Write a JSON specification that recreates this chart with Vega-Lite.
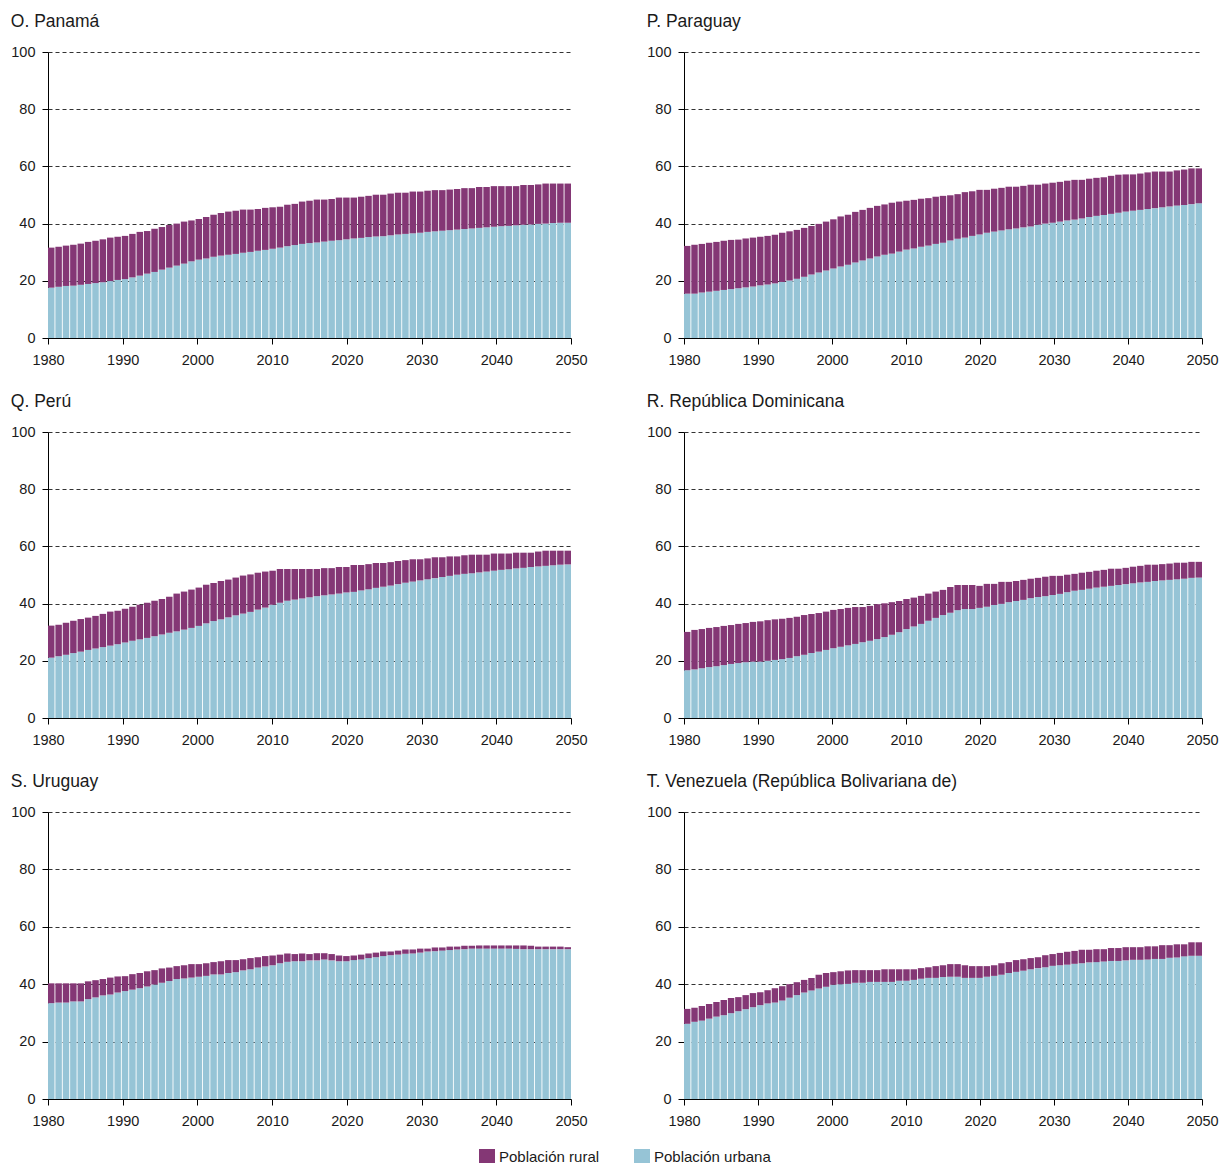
{
"$schema": "https://vega.github.io/schema/vega-lite/v6.json",
"padding": {"left": 10, "top": 12, "right": 5, "bottom": 5},
"data": {"values": [
{"pais":"Panamá","anio":1980,"urbana":17.6,"rural":14.0},{"pais":"Panamá","anio":1981,"urbana":17.9,"rural":14.0},{"pais":"Panamá","anio":1982,"urbana":18.2,"rural":14.1},{"pais":"Panamá","anio":1983,"urbana":18.3,"rural":14.3},{"pais":"Panamá","anio":1984,"urbana":18.6,"rural":14.4},{"pais":"Panamá","anio":1985,"urbana":18.9,"rural":14.7},{"pais":"Panamá","anio":1986,"urbana":19.2,"rural":14.8},{"pais":"Panamá","anio":1987,"urbana":19.5,"rural":15.0},{"pais":"Panamá","anio":1988,"urbana":19.9,"rural":15.2},{"pais":"Panamá","anio":1989,"urbana":20.3,"rural":15.1},
{"pais":"Panamá","anio":1990,"urbana":20.6,"rural":15.1},{"pais":"Panamá","anio":1991,"urbana":21.2,"rural":15.2},{"pais":"Panamá","anio":1992,"urbana":21.8,"rural":15.3},{"pais":"Panamá","anio":1993,"urbana":22.5,"rural":14.9},{"pais":"Panamá","anio":1994,"urbana":23.1,"rural":15.1},{"pais":"Panamá","anio":1995,"urbana":23.9,"rural":14.9},{"pais":"Panamá","anio":1996,"urbana":24.6,"rural":14.9},{"pais":"Panamá","anio":1997,"urbana":25.3,"rural":14.7},{"pais":"Panamá","anio":1998,"urbana":26.0,"rural":14.7},{"pais":"Panamá","anio":1999,"urbana":26.8,"rural":14.3},
{"pais":"Panamá","anio":2000,"urbana":27.4,"rural":14.2},{"pais":"Panamá","anio":2001,"urbana":27.8,"rural":14.5},{"pais":"Panamá","anio":2002,"urbana":28.4,"rural":14.7},{"pais":"Panamá","anio":2003,"urbana":28.8,"rural":14.9},{"pais":"Panamá","anio":2004,"urbana":29.1,"rural":15.1},{"pais":"Panamá","anio":2005,"urbana":29.4,"rural":15.1},{"pais":"Panamá","anio":2006,"urbana":29.8,"rural":15.1},{"pais":"Panamá","anio":2007,"urbana":30.1,"rural":14.8},{"pais":"Panamá","anio":2008,"urbana":30.5,"rural":14.6},{"pais":"Panamá","anio":2009,"urbana":30.8,"rural":14.7},
{"pais":"Panamá","anio":2010,"urbana":31.2,"rural":14.5},{"pais":"Panamá","anio":2011,"urbana":31.6,"rural":14.3},{"pais":"Panamá","anio":2012,"urbana":32.1,"rural":14.5},{"pais":"Panamá","anio":2013,"urbana":32.5,"rural":14.4},{"pais":"Panamá","anio":2014,"urbana":32.9,"rural":14.8},{"pais":"Panamá","anio":2015,"urbana":33.2,"rural":14.8},{"pais":"Panamá","anio":2016,"urbana":33.4,"rural":15.0},{"pais":"Panamá","anio":2017,"urbana":33.7,"rural":14.7},{"pais":"Panamá","anio":2018,"urbana":34.0,"rural":14.6},{"pais":"Panamá","anio":2019,"urbana":34.2,"rural":14.9},
{"pais":"Panamá","anio":2020,"urbana":34.5,"rural":14.6},{"pais":"Panamá","anio":2021,"urbana":34.8,"rural":14.3},{"pais":"Panamá","anio":2022,"urbana":35.0,"rural":14.4},{"pais":"Panamá","anio":2023,"urbana":35.3,"rural":14.4},{"pais":"Panamá","anio":2024,"urbana":35.5,"rural":14.6},{"pais":"Panamá","anio":2025,"urbana":35.6,"rural":14.5},{"pais":"Panamá","anio":2026,"urbana":35.9,"rural":14.6},{"pais":"Panamá","anio":2027,"urbana":36.2,"rural":14.6},{"pais":"Panamá","anio":2028,"urbana":36.4,"rural":14.4},{"pais":"Panamá","anio":2029,"urbana":36.6,"rural":14.6},
{"pais":"Panamá","anio":2030,"urbana":36.8,"rural":14.4},{"pais":"Panamá","anio":2031,"urbana":37.1,"rural":14.4},{"pais":"Panamá","anio":2032,"urbana":37.3,"rural":14.4},{"pais":"Panamá","anio":2033,"urbana":37.5,"rural":14.2},{"pais":"Panamá","anio":2034,"urbana":37.7,"rural":14.2},{"pais":"Panamá","anio":2035,"urbana":37.9,"rural":14.2},{"pais":"Panamá","anio":2036,"urbana":38.1,"rural":14.3},{"pais":"Panamá","anio":2037,"urbana":38.3,"rural":14.1},{"pais":"Panamá","anio":2038,"urbana":38.5,"rural":14.3},{"pais":"Panamá","anio":2039,"urbana":38.7,"rural":14.1},
{"pais":"Panamá","anio":2040,"urbana":38.9,"rural":14.2},{"pais":"Panamá","anio":2041,"urbana":39.1,"rural":14.0},{"pais":"Panamá","anio":2042,"urbana":39.2,"rural":13.9},{"pais":"Panamá","anio":2043,"urbana":39.4,"rural":13.7},{"pais":"Panamá","anio":2044,"urbana":39.6,"rural":13.9},{"pais":"Panamá","anio":2045,"urbana":39.7,"rural":13.8},{"pais":"Panamá","anio":2046,"urbana":39.9,"rural":13.8},{"pais":"Panamá","anio":2047,"urbana":40.0,"rural":14.0},{"pais":"Panamá","anio":2048,"urbana":40.2,"rural":13.8},{"pais":"Panamá","anio":2049,"urbana":40.3,"rural":13.7},
{"pais":"Panamá","anio":2050,"urbana":40.3,"rural":13.7},

{"pais":"Paraguay","anio":1980,"urbana":15.5,"rural":16.7},{"pais":"Paraguay","anio":1981,"urbana":15.5,"rural":17.1},{"pais":"Paraguay","anio":1982,"urbana":15.9,"rural":17.0},{"pais":"Paraguay","anio":1983,"urbana":16.2,"rural":17.1},{"pais":"Paraguay","anio":1984,"urbana":16.5,"rural":17.1},{"pais":"Paraguay","anio":1985,"urbana":16.8,"rural":17.2},{"pais":"Paraguay","anio":1986,"urbana":17.1,"rural":17.2},{"pais":"Paraguay","anio":1987,"urbana":17.4,"rural":17.0},{"pais":"Paraguay","anio":1988,"urbana":17.7,"rural":17.1},{"pais":"Paraguay","anio":1989,"urbana":18.0,"rural":17.1},
{"pais":"Paraguay","anio":1990,"urbana":18.4,"rural":17.0},{"pais":"Paraguay","anio":1991,"urbana":18.7,"rural":17.0},{"pais":"Paraguay","anio":1992,"urbana":19.1,"rural":17.0},{"pais":"Paraguay","anio":1993,"urbana":19.6,"rural":17.2},{"pais":"Paraguay","anio":1994,"urbana":20.1,"rural":17.2},{"pais":"Paraguay","anio":1995,"urbana":20.7,"rural":17.1},{"pais":"Paraguay","anio":1996,"urbana":21.4,"rural":17.1},{"pais":"Paraguay","anio":1997,"urbana":22.2,"rural":17.0},{"pais":"Paraguay","anio":1998,"urbana":22.9,"rural":17.0},{"pais":"Paraguay","anio":1999,"urbana":23.6,"rural":17.1},
{"pais":"Paraguay","anio":2000,"urbana":24.3,"rural":17.2},{"pais":"Paraguay","anio":2001,"urbana":25.0,"rural":17.5},{"pais":"Paraguay","anio":2002,"urbana":25.6,"rural":17.5},{"pais":"Paraguay","anio":2003,"urbana":26.4,"rural":17.7},{"pais":"Paraguay","anio":2004,"urbana":27.1,"rural":17.7},{"pais":"Paraguay","anio":2005,"urbana":27.8,"rural":17.7},{"pais":"Paraguay","anio":2006,"urbana":28.5,"rural":17.7},{"pais":"Paraguay","anio":2007,"urbana":29.1,"rural":17.6},{"pais":"Paraguay","anio":2008,"urbana":29.5,"rural":17.8},{"pais":"Paraguay","anio":2009,"urbana":30.2,"rural":17.5},
{"pais":"Paraguay","anio":2010,"urbana":30.9,"rural":17.1},{"pais":"Paraguay","anio":2011,"urbana":31.3,"rural":17.0},{"pais":"Paraguay","anio":2012,"urbana":31.9,"rural":16.8},{"pais":"Paraguay","anio":2013,"urbana":32.3,"rural":16.6},{"pais":"Paraguay","anio":2014,"urbana":32.9,"rural":16.5},{"pais":"Paraguay","anio":2015,"urbana":33.3,"rural":16.4},{"pais":"Paraguay","anio":2016,"urbana":34.1,"rural":15.8},{"pais":"Paraguay","anio":2017,"urbana":34.7,"rural":15.6},{"pais":"Paraguay","anio":2018,"urbana":35.1,"rural":15.9},{"pais":"Paraguay","anio":2019,"urbana":35.7,"rural":15.6},
{"pais":"Paraguay","anio":2020,"urbana":36.2,"rural":15.6},{"pais":"Paraguay","anio":2021,"urbana":36.8,"rural":15.0},{"pais":"Paraguay","anio":2022,"urbana":37.2,"rural":15.0},{"pais":"Paraguay","anio":2023,"urbana":37.6,"rural":14.9},{"pais":"Paraguay","anio":2024,"urbana":38.0,"rural":14.9},{"pais":"Paraguay","anio":2025,"urbana":38.3,"rural":14.6},{"pais":"Paraguay","anio":2026,"urbana":38.7,"rural":14.5},{"pais":"Paraguay","anio":2027,"urbana":39.0,"rural":14.6},{"pais":"Paraguay","anio":2028,"urbana":39.6,"rural":14.0},{"pais":"Paraguay","anio":2029,"urbana":40.0,"rural":14.0},
{"pais":"Paraguay","anio":2030,"urbana":40.3,"rural":14.0},{"pais":"Paraguay","anio":2031,"urbana":40.7,"rural":13.9},{"pais":"Paraguay","anio":2032,"urbana":41.1,"rural":13.9},{"pais":"Paraguay","anio":2033,"urbana":41.4,"rural":13.9},{"pais":"Paraguay","anio":2034,"urbana":41.8,"rural":13.5},{"pais":"Paraguay","anio":2035,"urbana":42.3,"rural":13.4},{"pais":"Paraguay","anio":2036,"urbana":42.7,"rural":13.3},{"pais":"Paraguay","anio":2037,"urbana":43.0,"rural":13.2},{"pais":"Paraguay","anio":2038,"urbana":43.4,"rural":13.3},{"pais":"Paraguay","anio":2039,"urbana":43.8,"rural":13.3},
{"pais":"Paraguay","anio":2040,"urbana":44.2,"rural":13.0},{"pais":"Paraguay","anio":2041,"urbana":44.5,"rural":12.7},{"pais":"Paraguay","anio":2042,"urbana":44.8,"rural":12.7},{"pais":"Paraguay","anio":2043,"urbana":45.1,"rural":12.8},{"pais":"Paraguay","anio":2044,"urbana":45.4,"rural":12.8},{"pais":"Paraguay","anio":2045,"urbana":45.7,"rural":12.5},{"pais":"Paraguay","anio":2046,"urbana":46.0,"rural":12.2},{"pais":"Paraguay","anio":2047,"urbana":46.3,"rural":12.3},{"pais":"Paraguay","anio":2048,"urbana":46.5,"rural":12.4},{"pais":"Paraguay","anio":2049,"urbana":46.8,"rural":12.5},
{"pais":"Paraguay","anio":2050,"urbana":47.1,"rural":12.2},

{"pais":"Perú","anio":1980,"urbana":21.1,"rural":11.2},{"pais":"Perú","anio":1981,"urbana":21.6,"rural":11.0},{"pais":"Perú","anio":1982,"urbana":22.1,"rural":11.2},{"pais":"Perú","anio":1983,"urbana":22.7,"rural":11.3},{"pais":"Perú","anio":1984,"urbana":23.2,"rural":11.4},{"pais":"Perú","anio":1985,"urbana":23.8,"rural":11.3},{"pais":"Perú","anio":1986,"urbana":24.3,"rural":11.4},{"pais":"Perú","anio":1987,"urbana":24.8,"rural":11.6},{"pais":"Perú","anio":1988,"urbana":25.3,"rural":11.9},{"pais":"Perú","anio":1989,"urbana":25.8,"rural":11.7},
{"pais":"Perú","anio":1990,"urbana":26.4,"rural":11.8},{"pais":"Perú","anio":1991,"urbana":27.0,"rural":11.9},{"pais":"Perú","anio":1992,"urbana":27.5,"rural":12.1},{"pais":"Perú","anio":1993,"urbana":28.0,"rural":12.3},{"pais":"Perú","anio":1994,"urbana":28.6,"rural":12.4},{"pais":"Perú","anio":1995,"urbana":29.2,"rural":12.4},{"pais":"Perú","anio":1996,"urbana":29.8,"rural":12.6},{"pais":"Perú","anio":1997,"urbana":30.3,"rural":13.2},{"pais":"Perú","anio":1998,"urbana":30.9,"rural":13.3},{"pais":"Perú","anio":1999,"urbana":31.5,"rural":13.4},
{"pais":"Perú","anio":2000,"urbana":32.2,"rural":13.4},{"pais":"Perú","anio":2001,"urbana":33.1,"rural":13.5},{"pais":"Perú","anio":2002,"urbana":33.9,"rural":13.3},{"pais":"Perú","anio":2003,"urbana":34.5,"rural":13.4},{"pais":"Perú","anio":2004,"urbana":35.2,"rural":13.2},{"pais":"Perú","anio":2005,"urbana":35.9,"rural":13.2},{"pais":"Perú","anio":2006,"urbana":36.5,"rural":13.3},{"pais":"Perú","anio":2007,"urbana":37.1,"rural":13.1},{"pais":"Perú","anio":2008,"urbana":37.9,"rural":12.9},{"pais":"Perú","anio":2009,"urbana":38.6,"rural":12.6},
{"pais":"Perú","anio":2010,"urbana":39.6,"rural":11.9},{"pais":"Perú","anio":2011,"urbana":40.3,"rural":11.8},{"pais":"Perú","anio":2012,"urbana":41.0,"rural":11.1},{"pais":"Perú","anio":2013,"urbana":41.4,"rural":10.7},{"pais":"Perú","anio":2014,"urbana":41.8,"rural":10.3},{"pais":"Perú","anio":2015,"urbana":42.2,"rural":9.9},{"pais":"Perú","anio":2016,"urbana":42.6,"rural":9.5},{"pais":"Perú","anio":2017,"urbana":42.9,"rural":9.5},{"pais":"Perú","anio":2018,"urbana":43.2,"rural":9.2},{"pais":"Perú","anio":2019,"urbana":43.5,"rural":9.3},
{"pais":"Perú","anio":2020,"urbana":43.9,"rural":8.9},{"pais":"Perú","anio":2021,"urbana":44.1,"rural":9.4},{"pais":"Perú","anio":2022,"urbana":44.6,"rural":8.9},{"pais":"Perú","anio":2023,"urbana":45.0,"rural":8.8},{"pais":"Perú","anio":2024,"urbana":45.5,"rural":8.7},{"pais":"Perú","anio":2025,"urbana":45.9,"rural":8.3},{"pais":"Perú","anio":2026,"urbana":46.3,"rural":8.2},{"pais":"Perú","anio":2027,"urbana":46.8,"rural":8.1},{"pais":"Perú","anio":2028,"urbana":47.3,"rural":7.9},{"pais":"Perú","anio":2029,"urbana":47.7,"rural":7.8},
{"pais":"Perú","anio":2030,"urbana":48.1,"rural":7.4},{"pais":"Perú","anio":2031,"urbana":48.5,"rural":7.3},{"pais":"Perú","anio":2032,"urbana":48.9,"rural":7.3},{"pais":"Perú","anio":2033,"urbana":49.3,"rural":6.9},{"pais":"Perú","anio":2034,"urbana":49.7,"rural":6.8},{"pais":"Perú","anio":2035,"urbana":50.1,"rural":6.4},{"pais":"Perú","anio":2036,"urbana":50.4,"rural":6.5},{"pais":"Perú","anio":2037,"urbana":50.6,"rural":6.5},{"pais":"Perú","anio":2038,"urbana":50.9,"rural":6.2},{"pais":"Perú","anio":2039,"urbana":51.2,"rural":5.9},
{"pais":"Perú","anio":2040,"urbana":51.5,"rural":6.0},{"pais":"Perú","anio":2041,"urbana":51.8,"rural":5.7},{"pais":"Perú","anio":2042,"urbana":52.0,"rural":5.5},{"pais":"Perú","anio":2043,"urbana":52.3,"rural":5.5},{"pais":"Perú","anio":2044,"urbana":52.5,"rural":5.3},{"pais":"Perú","anio":2045,"urbana":52.8,"rural":5.0},{"pais":"Perú","anio":2046,"urbana":53.0,"rural":5.2},{"pais":"Perú","anio":2047,"urbana":53.2,"rural":5.3},{"pais":"Perú","anio":2048,"urbana":53.4,"rural":5.1},{"pais":"Perú","anio":2049,"urbana":53.6,"rural":4.9},
{"pais":"Perú","anio":2050,"urbana":53.7,"rural":4.8},

{"pais":"República Dominicana","anio":1980,"urbana":16.7,"rural":13.4},{"pais":"República Dominicana","anio":1981,"urbana":17.0,"rural":13.8},{"pais":"República Dominicana","anio":1982,"urbana":17.4,"rural":13.7},{"pais":"República Dominicana","anio":1983,"urbana":17.8,"rural":13.7},{"pais":"República Dominicana","anio":1984,"urbana":18.1,"rural":13.7},{"pais":"República Dominicana","anio":1985,"urbana":18.5,"rural":13.7},{"pais":"República Dominicana","anio":1986,"urbana":18.9,"rural":13.6},{"pais":"República Dominicana","anio":1987,"urbana":19.2,"rural":13.7},{"pais":"República Dominicana","anio":1988,"urbana":19.5,"rural":13.7},{"pais":"República Dominicana","anio":1989,"urbana":19.7,"rural":13.9},
{"pais":"República Dominicana","anio":1990,"urbana":19.7,"rural":14.1},{"pais":"República Dominicana","anio":1991,"urbana":20.0,"rural":14.2},{"pais":"República Dominicana","anio":1992,"urbana":20.3,"rural":14.2},{"pais":"República Dominicana","anio":1993,"urbana":20.6,"rural":14.1},{"pais":"República Dominicana","anio":1994,"urbana":21.0,"rural":14.0},{"pais":"República Dominicana","anio":1995,"urbana":21.6,"rural":13.8},{"pais":"República Dominicana","anio":1996,"urbana":22.1,"rural":13.9},{"pais":"República Dominicana","anio":1997,"urbana":22.7,"rural":13.7},{"pais":"República Dominicana","anio":1998,"urbana":23.2,"rural":13.5},{"pais":"República Dominicana","anio":1999,"urbana":23.8,"rural":13.4},
{"pais":"República Dominicana","anio":2000,"urbana":24.4,"rural":13.4},{"pais":"República Dominicana","anio":2001,"urbana":24.9,"rural":13.2},{"pais":"República Dominicana","anio":2002,"urbana":25.4,"rural":13.1},{"pais":"República Dominicana","anio":2003,"urbana":25.9,"rural":12.9},{"pais":"República Dominicana","anio":2004,"urbana":26.5,"rural":12.3},{"pais":"República Dominicana","anio":2005,"urbana":27.0,"rural":12.2},{"pais":"República Dominicana","anio":2006,"urbana":27.6,"rural":12.2},{"pais":"República Dominicana","anio":2007,"urbana":28.3,"rural":11.8},{"pais":"República Dominicana","anio":2008,"urbana":29.1,"rural":11.4},{"pais":"República Dominicana","anio":2009,"urbana":30.0,"rural":10.9},
{"pais":"República Dominicana","anio":2010,"urbana":31.1,"rural":10.5},{"pais":"República Dominicana","anio":2011,"urbana":32.0,"rural":10.1},{"pais":"República Dominicana","anio":2012,"urbana":32.9,"rural":9.8},{"pais":"República Dominicana","anio":2013,"urbana":34.0,"rural":9.5},{"pais":"República Dominicana","anio":2014,"urbana":35.0,"rural":9.2},{"pais":"República Dominicana","anio":2015,"urbana":36.0,"rural":8.8},{"pais":"República Dominicana","anio":2016,"urbana":36.8,"rural":9.0},{"pais":"República Dominicana","anio":2017,"urbana":37.7,"rural":8.8},{"pais":"República Dominicana","anio":2018,"urbana":38.1,"rural":8.4},{"pais":"República Dominicana","anio":2019,"urbana":38.1,"rural":8.4},
{"pais":"República Dominicana","anio":2020,"urbana":38.5,"rural":7.7},{"pais":"República Dominicana","anio":2021,"urbana":38.9,"rural":8.0},{"pais":"República Dominicana","anio":2022,"urbana":39.5,"rural":7.4},{"pais":"República Dominicana","anio":2023,"urbana":39.9,"rural":7.7},{"pais":"República Dominicana","anio":2024,"urbana":40.5,"rural":7.1},{"pais":"República Dominicana","anio":2025,"urbana":40.9,"rural":7.0},{"pais":"República Dominicana","anio":2026,"urbana":41.3,"rural":7.0},{"pais":"República Dominicana","anio":2027,"urbana":41.9,"rural":6.8},{"pais":"República Dominicana","anio":2028,"urbana":42.3,"rural":6.7},{"pais":"República Dominicana","anio":2029,"urbana":42.6,"rural":6.8},
{"pais":"República Dominicana","anio":2030,"urbana":43.0,"rural":6.7},{"pais":"República Dominicana","anio":2031,"urbana":43.4,"rural":6.3},{"pais":"República Dominicana","anio":2032,"urbana":44.0,"rural":6.1},{"pais":"República Dominicana","anio":2033,"urbana":44.5,"rural":5.9},{"pais":"República Dominicana","anio":2034,"urbana":44.8,"rural":6.0},{"pais":"República Dominicana","anio":2035,"urbana":45.2,"rural":5.9},{"pais":"República Dominicana","anio":2036,"urbana":45.6,"rural":5.9},{"pais":"República Dominicana","anio":2037,"urbana":45.9,"rural":5.9},{"pais":"República Dominicana","anio":2038,"urbana":46.2,"rural":6.0},{"pais":"República Dominicana","anio":2039,"urbana":46.5,"rural":5.7},
{"pais":"República Dominicana","anio":2040,"urbana":46.8,"rural":5.7},{"pais":"República Dominicana","anio":2041,"urbana":47.1,"rural":5.8},{"pais":"República Dominicana","anio":2042,"urbana":47.4,"rural":5.8},{"pais":"República Dominicana","anio":2043,"urbana":47.6,"rural":6.0},{"pais":"República Dominicana","anio":2044,"urbana":47.9,"rural":5.7},{"pais":"República Dominicana","anio":2045,"urbana":48.1,"rural":5.7},{"pais":"República Dominicana","anio":2046,"urbana":48.3,"rural":5.7},{"pais":"República Dominicana","anio":2047,"urbana":48.5,"rural":5.8},{"pais":"República Dominicana","anio":2048,"urbana":48.7,"rural":5.6},{"pais":"República Dominicana","anio":2049,"urbana":49.0,"rural":5.6},
{"pais":"República Dominicana","anio":2050,"urbana":49.1,"rural":5.5},

{"pais":"Uruguay","anio":1980,"urbana":33.4,"rural":6.9},{"pais":"Uruguay","anio":1981,"urbana":33.6,"rural":6.7},{"pais":"Uruguay","anio":1982,"urbana":33.6,"rural":6.7},{"pais":"Uruguay","anio":1983,"urbana":34.0,"rural":6.3},{"pais":"Uruguay","anio":1984,"urbana":34.0,"rural":6.3},{"pais":"Uruguay","anio":1985,"urbana":34.8,"rural":6.2},{"pais":"Uruguay","anio":1986,"urbana":35.4,"rural":6.0},{"pais":"Uruguay","anio":1987,"urbana":36.1,"rural":5.7},{"pais":"Uruguay","anio":1988,"urbana":36.4,"rural":5.9},{"pais":"Uruguay","anio":1989,"urbana":37.1,"rural":5.6},
{"pais":"Uruguay","anio":1990,"urbana":37.6,"rural":5.2},{"pais":"Uruguay","anio":1991,"urbana":38.1,"rural":5.4},{"pais":"Uruguay","anio":1992,"urbana":38.6,"rural":5.3},{"pais":"Uruguay","anio":1993,"urbana":39.2,"rural":5.3},{"pais":"Uruguay","anio":1994,"urbana":39.9,"rural":5.0},{"pais":"Uruguay","anio":1995,"urbana":40.5,"rural":5.0},{"pais":"Uruguay","anio":1996,"urbana":41.1,"rural":4.7},{"pais":"Uruguay","anio":1997,"urbana":41.8,"rural":4.5},{"pais":"Uruguay","anio":1998,"urbana":42.0,"rural":4.6},{"pais":"Uruguay","anio":1999,"urbana":42.3,"rural":4.7},
{"pais":"Uruguay","anio":2000,"urbana":42.6,"rural":4.4},{"pais":"Uruguay","anio":2001,"urbana":42.9,"rural":4.4},{"pais":"Uruguay","anio":2002,"urbana":43.4,"rural":4.3},{"pais":"Uruguay","anio":2003,"urbana":43.4,"rural":4.6},{"pais":"Uruguay","anio":2004,"urbana":43.9,"rural":4.5},{"pais":"Uruguay","anio":2005,"urbana":44.2,"rural":4.2},{"pais":"Uruguay","anio":2006,"urbana":44.8,"rural":3.9},{"pais":"Uruguay","anio":2007,"urbana":45.2,"rural":3.9},{"pais":"Uruguay","anio":2008,"urbana":45.8,"rural":3.6},{"pais":"Uruguay","anio":2009,"urbana":46.2,"rural":3.6},
{"pais":"Uruguay","anio":2010,"urbana":46.6,"rural":3.4},{"pais":"Uruguay","anio":2011,"urbana":47.3,"rural":3.0},{"pais":"Uruguay","anio":2012,"urbana":47.8,"rural":2.9},{"pais":"Uruguay","anio":2013,"urbana":48.0,"rural":2.5},{"pais":"Uruguay","anio":2014,"urbana":48.0,"rural":2.7},{"pais":"Uruguay","anio":2015,"urbana":48.3,"rural":2.2},{"pais":"Uruguay","anio":2016,"urbana":48.3,"rural":2.5},{"pais":"Uruguay","anio":2017,"urbana":48.6,"rural":2.2},{"pais":"Uruguay","anio":2018,"urbana":48.3,"rural":2.2},{"pais":"Uruguay","anio":2019,"urbana":48.0,"rural":2.0},
{"pais":"Uruguay","anio":2020,"urbana":48.0,"rural":1.8},{"pais":"Uruguay","anio":2021,"urbana":48.4,"rural":1.6},{"pais":"Uruguay","anio":2022,"urbana":48.6,"rural":1.7},{"pais":"Uruguay","anio":2023,"urbana":49.1,"rural":1.6},{"pais":"Uruguay","anio":2024,"urbana":49.4,"rural":1.6},{"pais":"Uruguay","anio":2025,"urbana":49.8,"rural":1.6},{"pais":"Uruguay","anio":2026,"urbana":50.1,"rural":1.3},{"pais":"Uruguay","anio":2027,"urbana":50.3,"rural":1.4},{"pais":"Uruguay","anio":2028,"urbana":50.6,"rural":1.5},{"pais":"Uruguay","anio":2029,"urbana":50.7,"rural":1.4},
{"pais":"Uruguay","anio":2030,"urbana":51.0,"rural":1.4},{"pais":"Uruguay","anio":2031,"urbana":51.4,"rural":1.0},{"pais":"Uruguay","anio":2032,"urbana":51.5,"rural":1.3},{"pais":"Uruguay","anio":2033,"urbana":51.7,"rural":1.1},{"pais":"Uruguay","anio":2034,"urbana":51.9,"rural":1.2},{"pais":"Uruguay","anio":2035,"urbana":52.1,"rural":1.0},{"pais":"Uruguay","anio":2036,"urbana":52.2,"rural":1.2},{"pais":"Uruguay","anio":2037,"urbana":52.4,"rural":1.0},{"pais":"Uruguay","anio":2038,"urbana":52.4,"rural":1.1},{"pais":"Uruguay","anio":2039,"urbana":52.4,"rural":1.1},
{"pais":"Uruguay","anio":2040,"urbana":52.4,"rural":1.1},{"pais":"Uruguay","anio":2041,"urbana":52.4,"rural":1.1},{"pais":"Uruguay","anio":2042,"urbana":52.4,"rural":1.1},{"pais":"Uruguay","anio":2043,"urbana":52.3,"rural":1.2},{"pais":"Uruguay","anio":2044,"urbana":52.2,"rural":1.3},{"pais":"Uruguay","anio":2045,"urbana":52.2,"rural":1.2},{"pais":"Uruguay","anio":2046,"urbana":52.2,"rural":0.9},{"pais":"Uruguay","anio":2047,"urbana":52.2,"rural":0.9},{"pais":"Uruguay","anio":2048,"urbana":52.2,"rural":0.9},{"pais":"Uruguay","anio":2049,"urbana":52.2,"rural":0.9},
{"pais":"Uruguay","anio":2050,"urbana":52.2,"rural":0.7},

{"pais":"Venezuela","anio":1980,"urbana":26.2,"rural":5.2},{"pais":"Venezuela","anio":1981,"urbana":26.9,"rural":4.9},{"pais":"Venezuela","anio":1982,"urbana":27.3,"rural":5.1},{"pais":"Venezuela","anio":1983,"urbana":28.0,"rural":5.1},{"pais":"Venezuela","anio":1984,"urbana":28.7,"rural":5.1},{"pais":"Venezuela","anio":1985,"urbana":29.2,"rural":5.3},{"pais":"Venezuela","anio":1986,"urbana":29.9,"rural":5.3},{"pais":"Venezuela","anio":1987,"urbana":30.6,"rural":4.9},{"pais":"Venezuela","anio":1988,"urbana":31.3,"rural":4.9},{"pais":"Venezuela","anio":1989,"urbana":32.0,"rural":4.9},
{"pais":"Venezuela","anio":1990,"urbana":32.7,"rural":4.5},{"pais":"Venezuela","anio":1991,"urbana":33.3,"rural":4.6},{"pais":"Venezuela","anio":1992,"urbana":33.6,"rural":5.0},{"pais":"Venezuela","anio":1993,"urbana":34.3,"rural":5.0},{"pais":"Venezuela","anio":1994,"urbana":35.3,"rural":4.7},{"pais":"Venezuela","anio":1995,"urbana":36.2,"rural":4.5},{"pais":"Venezuela","anio":1996,"urbana":37.1,"rural":4.4},{"pais":"Venezuela","anio":1997,"urbana":37.8,"rural":4.4},{"pais":"Venezuela","anio":1998,"urbana":38.5,"rural":4.8},{"pais":"Venezuela","anio":1999,"urbana":39.1,"rural":4.8},
{"pais":"Venezuela","anio":2000,"urbana":39.8,"rural":4.4},{"pais":"Venezuela","anio":2001,"urbana":40.0,"rural":4.5},{"pais":"Venezuela","anio":2002,"urbana":40.1,"rural":4.7},{"pais":"Venezuela","anio":2003,"urbana":40.5,"rural":4.4},{"pais":"Venezuela","anio":2004,"urbana":40.5,"rural":4.4},{"pais":"Venezuela","anio":2005,"urbana":40.8,"rural":4.1},{"pais":"Venezuela","anio":2006,"urbana":40.8,"rural":4.1},{"pais":"Venezuela","anio":2007,"urbana":40.8,"rural":4.4},{"pais":"Venezuela","anio":2008,"urbana":40.8,"rural":4.4},{"pais":"Venezuela","anio":2009,"urbana":41.2,"rural":4.0},
{"pais":"Venezuela","anio":2010,"urbana":41.2,"rural":4.0},{"pais":"Venezuela","anio":2011,"urbana":41.5,"rural":3.7},{"pais":"Venezuela","anio":2012,"urbana":41.9,"rural":3.7},{"pais":"Venezuela","anio":2013,"urbana":42.2,"rural":3.7},{"pais":"Venezuela","anio":2014,"urbana":42.2,"rural":4.1},{"pais":"Venezuela","anio":2015,"urbana":42.5,"rural":4.1},{"pais":"Venezuela","anio":2016,"urbana":42.6,"rural":4.4},{"pais":"Venezuela","anio":2017,"urbana":42.6,"rural":4.4},{"pais":"Venezuela","anio":2018,"urbana":42.2,"rural":4.4},{"pais":"Venezuela","anio":2019,"urbana":42.2,"rural":4.1},
{"pais":"Venezuela","anio":2020,"urbana":42.2,"rural":4.1},{"pais":"Venezuela","anio":2021,"urbana":42.6,"rural":3.7},{"pais":"Venezuela","anio":2022,"urbana":42.9,"rural":3.7},{"pais":"Venezuela","anio":2023,"urbana":43.3,"rural":4.0},{"pais":"Venezuela","anio":2024,"urbana":43.9,"rural":3.8},{"pais":"Venezuela","anio":2025,"urbana":44.3,"rural":4.1},{"pais":"Venezuela","anio":2026,"urbana":44.7,"rural":4.0},{"pais":"Venezuela","anio":2027,"urbana":45.2,"rural":3.9},{"pais":"Venezuela","anio":2028,"urbana":45.6,"rural":3.8},{"pais":"Venezuela","anio":2029,"urbana":45.9,"rural":4.2},
{"pais":"Venezuela","anio":2030,"urbana":46.4,"rural":4.1},{"pais":"Venezuela","anio":2031,"urbana":46.6,"rural":4.3},{"pais":"Venezuela","anio":2032,"urbana":46.8,"rural":4.5},{"pais":"Venezuela","anio":2033,"urbana":47.1,"rural":4.5},{"pais":"Venezuela","anio":2034,"urbana":47.3,"rural":4.7},{"pais":"Venezuela","anio":2035,"urbana":47.6,"rural":4.4},{"pais":"Venezuela","anio":2036,"urbana":47.7,"rural":4.5},{"pais":"Venezuela","anio":2037,"urbana":47.9,"rural":4.3},{"pais":"Venezuela","anio":2038,"urbana":48.1,"rural":4.5},{"pais":"Venezuela","anio":2039,"urbana":48.1,"rural":4.5},
{"pais":"Venezuela","anio":2040,"urbana":48.3,"rural":4.6},{"pais":"Venezuela","anio":2041,"urbana":48.5,"rural":4.4},{"pais":"Venezuela","anio":2042,"urbana":48.5,"rural":4.4},{"pais":"Venezuela","anio":2043,"urbana":48.6,"rural":4.6},{"pais":"Venezuela","anio":2044,"urbana":48.8,"rural":4.4},{"pais":"Venezuela","anio":2045,"urbana":48.8,"rural":4.8},{"pais":"Venezuela","anio":2046,"urbana":49.2,"rural":4.4},{"pais":"Venezuela","anio":2047,"urbana":49.3,"rural":4.6},{"pais":"Venezuela","anio":2048,"urbana":49.7,"rural":4.2},{"pais":"Venezuela","anio":2049,"urbana":49.9,"rural":4.7},
{"pais":"Venezuela","anio":2050,"urbana":49.9,"rural":4.7}
]},
"transform": [{"fold": ["urbana", "rural"], "as": ["tipo", "valor"]}],
"columns": 2,
"spacing": {"column": 58, "row": 25},
"concat": [
{"title": {"text": "O. Panamá"}, "width": 523, "height": 286, "transform": [{"filter": "datum.pais === 'Panamá'"}],
 "layer": [
  {"mark": {"type": "bar"}, "encoding": {
    "x": {"field": "anio", "type": "ordinal", "scale": {"paddingInner": 0.12, "paddingOuter": 0}, "axis": null},
    "y": {"field": "valor", "type": "quantitative", "stack": "zero", "scale": {"domain": [0, 100]}, "axis": {"values": [0, 20, 40, 60, 80, 100], "title": null}},
    "color": {"field": "tipo", "type": "nominal", "scale": {"domain": ["rural", "urbana"], "range": ["#843775", "#96c4d6"]}, "legend": {"orient": "none", "legendX": 431, "legendY": 1097, "direction": "horizontal", "title": null, "labelExpr": "datum.label == 'rural' ? 'Población rural' : 'Población urbana'"}},
    "order": {"field": "tipo", "sort": "descending"}}},
  {"mark": {"type": "rule", "opacity": 0}, "encoding": {"x": {"field": "anio", "type": "quantitative", "scale": {"domain": [1980, 2050], "nice": false, "zero": false}, "axis": {"values": [1980, 1990, 2000, 2010, 2020, 2030, 2040, 2050], "format": "d", "title": null, "grid": false}}}}
 ], "resolve": {"scale": {"x": "independent"}}},
{"title": {"text": "P. Paraguay"}, "width": 518, "height": 286, "transform": [{"filter": "datum.pais === 'Paraguay'"}],
 "layer": [
  {"mark": {"type": "bar"}, "encoding": {
    "x": {"field": "anio", "type": "ordinal", "scale": {"paddingInner": 0.12, "paddingOuter": 0}, "axis": null},
    "y": {"field": "valor", "type": "quantitative", "stack": "zero", "scale": {"domain": [0, 100]}, "axis": {"values": [0, 20, 40, 60, 80, 100], "title": null}},
    "color": {"field": "tipo", "type": "nominal", "scale": {"domain": ["rural", "urbana"], "range": ["#843775", "#96c4d6"]}},
    "order": {"field": "tipo", "sort": "descending"}}},
  {"mark": {"type": "rule", "opacity": 0}, "encoding": {"x": {"field": "anio", "type": "quantitative", "scale": {"domain": [1980, 2050], "nice": false, "zero": false}, "axis": {"values": [1980, 1990, 2000, 2010, 2020, 2030, 2040, 2050], "format": "d", "title": null, "grid": false}}}}
 ], "resolve": {"scale": {"x": "independent"}}},
{"title": {"text": "Q. Perú"}, "width": 523, "height": 286, "transform": [{"filter": "datum.pais === 'Perú'"}],
 "layer": [
  {"mark": {"type": "bar"}, "encoding": {
    "x": {"field": "anio", "type": "ordinal", "scale": {"paddingInner": 0.12, "paddingOuter": 0}, "axis": null},
    "y": {"field": "valor", "type": "quantitative", "stack": "zero", "scale": {"domain": [0, 100]}, "axis": {"values": [0, 20, 40, 60, 80, 100], "title": null}},
    "color": {"field": "tipo", "type": "nominal", "scale": {"domain": ["rural", "urbana"], "range": ["#843775", "#96c4d6"]}},
    "order": {"field": "tipo", "sort": "descending"}}},
  {"mark": {"type": "rule", "opacity": 0}, "encoding": {"x": {"field": "anio", "type": "quantitative", "scale": {"domain": [1980, 2050], "nice": false, "zero": false}, "axis": {"values": [1980, 1990, 2000, 2010, 2020, 2030, 2040, 2050], "format": "d", "title": null, "grid": false}}}}
 ], "resolve": {"scale": {"x": "independent"}}},
{"title": {"text": "R. República Dominicana"}, "width": 518, "height": 286, "transform": [{"filter": "datum.pais === 'República Dominicana'"}],
 "layer": [
  {"mark": {"type": "bar"}, "encoding": {
    "x": {"field": "anio", "type": "ordinal", "scale": {"paddingInner": 0.12, "paddingOuter": 0}, "axis": null},
    "y": {"field": "valor", "type": "quantitative", "stack": "zero", "scale": {"domain": [0, 100]}, "axis": {"values": [0, 20, 40, 60, 80, 100], "title": null}},
    "color": {"field": "tipo", "type": "nominal", "scale": {"domain": ["rural", "urbana"], "range": ["#843775", "#96c4d6"]}},
    "order": {"field": "tipo", "sort": "descending"}}},
  {"mark": {"type": "rule", "opacity": 0}, "encoding": {"x": {"field": "anio", "type": "quantitative", "scale": {"domain": [1980, 2050], "nice": false, "zero": false}, "axis": {"values": [1980, 1990, 2000, 2010, 2020, 2030, 2040, 2050], "format": "d", "title": null, "grid": false}}}}
 ], "resolve": {"scale": {"x": "independent"}}},
{"title": {"text": "S. Uruguay"}, "width": 523, "height": 287, "transform": [{"filter": "datum.pais === 'Uruguay'"}],
 "layer": [
  {"mark": {"type": "bar"}, "encoding": {
    "x": {"field": "anio", "type": "ordinal", "scale": {"paddingInner": 0.12, "paddingOuter": 0}, "axis": null},
    "y": {"field": "valor", "type": "quantitative", "stack": "zero", "scale": {"domain": [0, 100]}, "axis": {"values": [0, 20, 40, 60, 80, 100], "title": null}},
    "color": {"field": "tipo", "type": "nominal", "scale": {"domain": ["rural", "urbana"], "range": ["#843775", "#96c4d6"]}},
    "order": {"field": "tipo", "sort": "descending"}}},
  {"mark": {"type": "rule", "opacity": 0}, "encoding": {"x": {"field": "anio", "type": "quantitative", "scale": {"domain": [1980, 2050], "nice": false, "zero": false}, "axis": {"values": [1980, 1990, 2000, 2010, 2020, 2030, 2040, 2050], "format": "d", "title": null, "grid": false}}}}
 ], "resolve": {"scale": {"x": "independent"}}},
{"title": {"text": "T. Venezuela (República Bolivariana de)"}, "width": 518, "height": 287, "transform": [{"filter": "datum.pais === 'Venezuela'"}],
 "layer": [
  {"mark": {"type": "bar"}, "encoding": {
    "x": {"field": "anio", "type": "ordinal", "scale": {"paddingInner": 0.12, "paddingOuter": 0}, "axis": null},
    "y": {"field": "valor", "type": "quantitative", "stack": "zero", "scale": {"domain": [0, 100]}, "axis": {"values": [0, 20, 40, 60, 80, 100], "title": null}},
    "color": {"field": "tipo", "type": "nominal", "scale": {"domain": ["rural", "urbana"], "range": ["#843775", "#96c4d6"]}},
    "order": {"field": "tipo", "sort": "descending"}}},
  {"mark": {"type": "rule", "opacity": 0}, "encoding": {"x": {"field": "anio", "type": "quantitative", "scale": {"domain": [1980, 2050], "nice": false, "zero": false}, "axis": {"values": [1980, 1990, 2000, 2010, 2020, 2030, 2040, 2050], "format": "d", "title": null, "grid": false}}}}
 ], "resolve": {"scale": {"x": "independent"}}}
],
"config": {
 "font": "Liberation Sans",
 "view": {"stroke": null},
 "title": {"anchor": "start", "frame": "bounds", "fontSize": 17.5, "fontWeight": "normal", "color": "#1a1a1a", "offset": 14},
 "axis": {"domainColor": "#000", "domainWidth": 1, "tickColor": "#000", "tickSize": 6, "labelColor": "#1a1a1a", "labelFontSize": 14.5},
 "axisX": {"tickSize": 6, "labelPadding": 9, "labelFlush": false},
 "axisY": {"grid": true, "gridColor": "#333", "gridDash": [4, 3], "gridWidth": 1, "labelPadding": 7},
 "legend": {"symbolType": "square", "symbolSize": 256, "symbolStrokeWidth": 0, "symbolOpacity": 1, "labelFontSize": 15, "labelColor": "#1a1a1a", "columnPadding": 34, "labelOffset": 4}
}
}
